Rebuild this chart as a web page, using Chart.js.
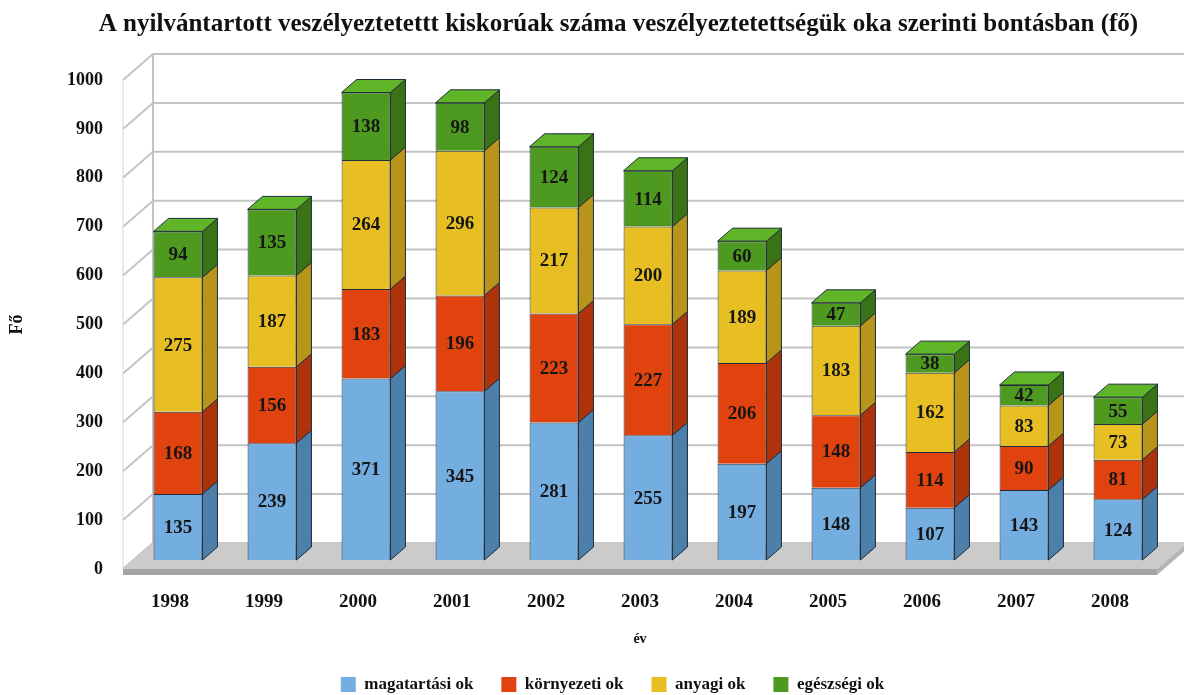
<!DOCTYPE html>
<html>
<head>
<meta charset="utf-8">
<title>Veszélyeztetett kiskorúak</title>
<script src="https://cdn.jsdelivr.net/npm/chart.js@4.4.1/dist/chart.umd.min.js"></script>
<style>
  html, body { margin: 0; padding: 0; background: #fff; }
  #wrap { width: 1184px; height: 695px; }
</style>
</head>
<body>
<div id="wrap"><canvas id="veszChart" width="1184" height="695"></canvas></div>
<script>
// adatok
var evek = ['1998', '1999', '2000', '2001', '2002', '2003', '2004', '2005', '2006', '2007', '2008'];
var magatartasi = [135, 239, 371, 345, 281, 255, 197, 148, 107, 143, 124];
var kornyezeti  = [168, 156, 183, 196, 223, 227, 206, 148, 114,  90,  81];
var anyagi      = [275, 187, 264, 296, 217, 200, 189, 183, 162,  83,  73];
var egeszsegi   = [ 94, 135, 138,  98, 124, 114,  60,  47,  38,  42,  55];
var yTicks = [0, 100, 200, 300, 400, 500, 600, 700, 800, 900, 1000];

var BETU = '"Liberation Serif", "DejaVu Serif", serif';

// szinek: elolap, oldallap, teteje
var szinek = [
  { front: '#74ade0', side: '#4d7fab', top: '#8cc0ea' },
  { front: '#e1430f', side: '#ae320a', top: '#ee6232' },
  { front: '#e8bf22', side: '#b8951a', top: '#f2d04a' },
  { front: '#4e991f', side: '#3a7216', top: '#60b428' }
];

var FAL = { x: 30, y: -26 };     // hatso fal melysege
var OSZLOP = { x: 15, y: -13 };  // oszlop melysege
var ELTOL = { x: 8, y: -9 };     // oszlopok eltolasa a fal fele

function sokszog(ctx, pontok, fill, stroke) {
  ctx.beginPath();
  ctx.moveTo(pontok[0][0], pontok[0][1]);
  for (var i = 1; i < pontok.length; i++) ctx.lineTo(pontok[i][0], pontok[i][1]);
  ctx.closePath();
  ctx.fillStyle = fill;
  ctx.fill();
  if (stroke) {
    ctx.strokeStyle = stroke;
    ctx.lineWidth = 1;
    ctx.stroke();
  }
}

var haromD = {
  id: 'haromD',
  afterLayout: function(chart) {
    // jelmagyarazat es cim helyre tolasa
    if (chart.legend) {
      chart.legend.top -= 8;
      chart.legend.bottom -= 8;
      chart.legend.left += 34;
      chart.legend.right += 34;
    }
    if (chart.titleBlock) {
      chart.titleBlock.left += 40;
      chart.titleBlock.right += 40;
    }
  },
  beforeDatasetsDraw: function(chart) {
    var ctx = chart.ctx, ca = chart.chartArea, ys = chart.scales.y;
    var y0 = ys.getPixelForValue(0);
    var yMax = ys.getPixelForValue(1000);
    ctx.save();

    // racsvonalak a hatso es bal falon
    ctx.strokeStyle = '#c4c4c4';
    ctx.lineWidth = 2;
    yTicks.forEach(function(v) {
      var py = ys.getPixelForValue(v);
      ctx.beginPath();
      ctx.moveTo(ca.left, py);
      ctx.lineTo(ca.left + FAL.x, py + FAL.y);
      ctx.lineTo(chart.width + 10, py + FAL.y);
      ctx.stroke();
    });
    ctx.beginPath();
    ctx.moveTo(ca.left + FAL.x, yMax + FAL.y);
    ctx.lineTo(ca.left + FAL.x, y0 + FAL.y);
    ctx.stroke();
    ctx.lineWidth = 1;
    ctx.strokeStyle = '#d6d6d6';
    ctx.beginPath();
    ctx.moveTo(ca.left, yMax);
    ctx.lineTo(ca.left, y0);
    ctx.stroke();

    // padlo
    sokszog(ctx, [[ca.left, y0], [ca.right, y0], [ca.right + FAL.x, y0 + FAL.y], [ca.left + FAL.x, y0 + FAL.y]], '#cbcbcb');
    sokszog(ctx, [[ca.left, y0], [ca.right, y0], [ca.right, y0 + 6], [ca.left, y0 + 6]], '#a4a4a4');
    sokszog(ctx, [[ca.right, y0], [ca.right + FAL.x, y0 + FAL.y], [ca.right + FAL.x, y0 + FAL.y + 6], [ca.right, y0 + 6]], '#b4b4b4');
    ctx.restore();

    // oszlopok oldal- es fedolapjai
    ctx.save();
    ctx.translate(ELTOL.x, ELTOL.y);
    var utolso = chart.data.datasets.length - 1;
    chart.data.datasets.forEach(function(ds, i) {
      var meta = chart.getDatasetMeta(i);
      meta.data.forEach(function(el) {
        var p = el.getProps(['x', 'y', 'base', 'width'], true);
        var xr = p.x + p.width / 2, xl = p.x - p.width / 2;
        sokszog(ctx, [[xr, p.y], [xr + OSZLOP.x, p.y + OSZLOP.y], [xr + OSZLOP.x, p.base + OSZLOP.y], [xr, p.base]], szinek[i].side, '#1f2d3a');
        if (i === utolso) {
          sokszog(ctx, [[xl, p.y], [xl + OSZLOP.x, p.y + OSZLOP.y], [xr + OSZLOP.x, p.y + OSZLOP.y], [xr, p.y]], szinek[i].top, '#1f2d3a');
        }
      });
    });
  },
  afterDatasetsDraw: function(chart) {
    var ctx = chart.ctx;
    ctx.font = 'bold 19px ' + BETU;
    ctx.fillStyle = '#161616';
    ctx.textAlign = 'center';
    ctx.textBaseline = 'middle';
    chart.data.datasets.forEach(function(ds, i) {
      var meta = chart.getDatasetMeta(i);
      meta.data.forEach(function(el, j) {
        var p = el.getProps(['x', 'y', 'base'], true);
        ctx.fillText(String(ds.data[j]), p.x, (p.y + p.base) / 2 + 1);
      });
    });
    ctx.restore();
  }
};

function sorozat(nev, adat, i) {
  return {
    label: nev,
    data: adat,
    backgroundColor: szinek[i].front,
    borderColor: '#1f2d3a',
    borderWidth: 1,
    categoryPercentage: 1,
    barPercentage: 0.52,
    clip: false
  };
}

new Chart(document.getElementById('veszChart').getContext('2d'), {
  type: 'bar',
  data: {
    labels: evek,
    datasets: [
      sorozat('magatartási ok', magatartasi, 0),
      sorozat('környezeti ok', kornyezeti, 1),
      sorozat('anyagi ok', anyagi, 2),
      sorozat('egészségi ok', egeszsegi, 3)
    ]
  },
  options: {
    responsive: false,
    animation: false,
    events: [],
    layout: { padding: { left: 0, right: 27, top: 0, bottom: -16 } },
    plugins: {
      title: {
        display: true,
        text: 'A nyilvántartott veszélyeztetettt kiskorúak száma veszélyeztetettségük oka szerinti bontásban (fő)',
        color: '#111',
        font: { family: BETU, size: 25, weight: 'bold' },
        padding: { top: 10, bottom: 40 }
      },
      legend: {
        position: 'bottom',
        labels: {
          color: '#111',
          font: { family: BETU, size: 17, weight: 'bold' },
          boxWidth: 15,
          boxHeight: 15,
          padding: 28,
          generateLabels: function(chart) {
            var items = Chart.defaults.plugins.legend.labels.generateLabels(chart);
            items.forEach(function(it) { it.lineWidth = 0; it.strokeStyle = 'rgba(0,0,0,0)'; });
            return items;
          }
        }
      },
      tooltip: { enabled: false }
    },
    scales: {
      x: {
        stacked: true,
        grid: { display: false, drawTicks: false },
        border: { display: false },
        ticks: { color: '#111', font: { family: BETU, size: 19, weight: 'bold' }, padding: 22 },
        title: { display: true, text: 'év', color: '#111', font: { family: BETU, size: 14, weight: 'bold' }, padding: { top: 0, bottom: 8 } },
        afterFit: function(scale) { scale.height = 87; }
      },
      y: {
        stacked: true,
        min: 0,
        max: 1000,
        grid: { display: false, drawTicks: false },
        border: { display: false },
        ticks: { stepSize: 100, format: { useGrouping: false }, color: '#111', font: { family: BETU, size: 18, weight: 'bold' }, padding: 20 },
        title: { display: true, text: 'Fő', color: '#111', font: { family: BETU, size: 18, weight: 'bold' }, padding: { top: 7, bottom: 0 } },
        afterFit: function(scale) { scale.width = 123; }
      }
    }
  },
  plugins: [haromD]
});
</script>
</body>
</html>
